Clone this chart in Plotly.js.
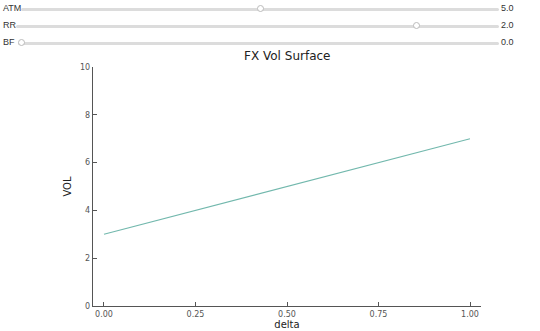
<!DOCTYPE html>
<html>
<head>
<meta charset="utf-8">
<script src="https://cdn.plot.ly/plotly-3.0.1.min.js"></script>
<style>
  html, body { margin: 0; padding: 0; background: #fff; width: 540px; height: 331px; overflow: hidden; }
  .row { position: absolute; left: 0; width: 540px; height: 14px; font-family: "Liberation Sans", Arial, sans-serif; font-size: 9px; color: #333; }
  .row .lab { position: absolute; left: 3px; top: 2px; }
  .row .val { position: absolute; left: 501px; top: 2px; }
  .row input { position: absolute; top: 1px; height: 14px; margin: 0; padding: 0; -webkit-appearance: none; appearance: none; background: transparent; }
  .row input::-webkit-slider-runnable-track { height: 3px; background: #dcdcdc; border-radius: 2px; }
  .row input::-webkit-slider-thumb { -webkit-appearance: none; width: 7px; height: 7px; border-radius: 50%; background: #fff; border: 1px solid #bbb; margin-top: -3px; }
  #chart { position: absolute; left: 0; top: 50px; width: 540px; height: 281px; }
</style>
</head>
<body>
<div class="row" style="top:1px"><span class="lab">ATM</span><input id="atm" type="range" style="left:21px;width:478px" min="0" max="10" step="0.1" value="5"><span class="val">5.0</span></div>
<div class="row" style="top:18px"><span class="lab">RR</span><input id="rr" type="range" style="left:16px;width:483px" min="-8" max="4" step="0.1" value="2"><span class="val">2.0</span></div>
<div class="row" style="top:35px"><span class="lab">BF</span><input id="bf" type="range" style="left:18px;width:481px" min="0" max="5" step="0.1" value="0"><span class="val">0.0</span></div>
<div id="chart"></div>
<script>
// Data
const delta = [0.0, 1.0];
const vol = [3.0, 7.0];
const xTickVals = [0, 0.25, 0.5, 0.75, 1.0];
const xTickText = ["0.00", "0.25", "0.50", "0.75", "1.00"];
const yTickVals = [0, 2, 4, 6, 8, 10];

const trace = {
  x: delta, y: vol, type: 'scatter', mode: 'lines',
  line: { color: '#72b8ad', width: 1.1 },
  hoverinfo: 'skip', showlegend: false
};

const axisFont = { family: 'DejaVu Sans, sans-serif', size: 8, color: '#555' };
const layout = {
  width: 540, height: 281,
  margin: { l: 93, r: 59, t: 17, b: 25 },
  paper_bgcolor: '#fff', plot_bgcolor: '#fff',
  title: { text: 'FX Vol Surface', font: { family: 'DejaVu Sans, sans-serif', size: 12, color: '#222' }, x: 0.532, xanchor: 'center', y: 0.978, yanchor: 'middle' },
  xaxis: {
    range: [-0.03, 1.03], tickvals: xTickVals, ticktext: xTickText,
    ticks: 'inside', ticklen: 4, tickcolor: '#555', tickwidth: 1,
    showline: true, linecolor: '#555', linewidth: 1.2, showgrid: false, zeroline: false,
    tickfont: axisFont,
    title: { text: 'delta', font: { family: 'DejaVu Sans, sans-serif', size: 10, color: '#222' }, standoff: 3 }
  },
  yaxis: {
    range: [0, 10], tickvals: yTickVals,
    ticks: 'inside', ticklen: 4, tickcolor: '#555', tickwidth: 1,
    showline: true, linecolor: '#555', linewidth: 1.2, showgrid: false, zeroline: false,
    tickfont: axisFont,
    title: { text: 'VOL', font: { family: 'DejaVu Sans, sans-serif', size: 10, color: '#222' }, standoff: 6 }
  }
};

Plotly.newPlot('chart', [trace], layout, { displayModeBar: false, staticPlot: true });
</script>
</body>
</html>
